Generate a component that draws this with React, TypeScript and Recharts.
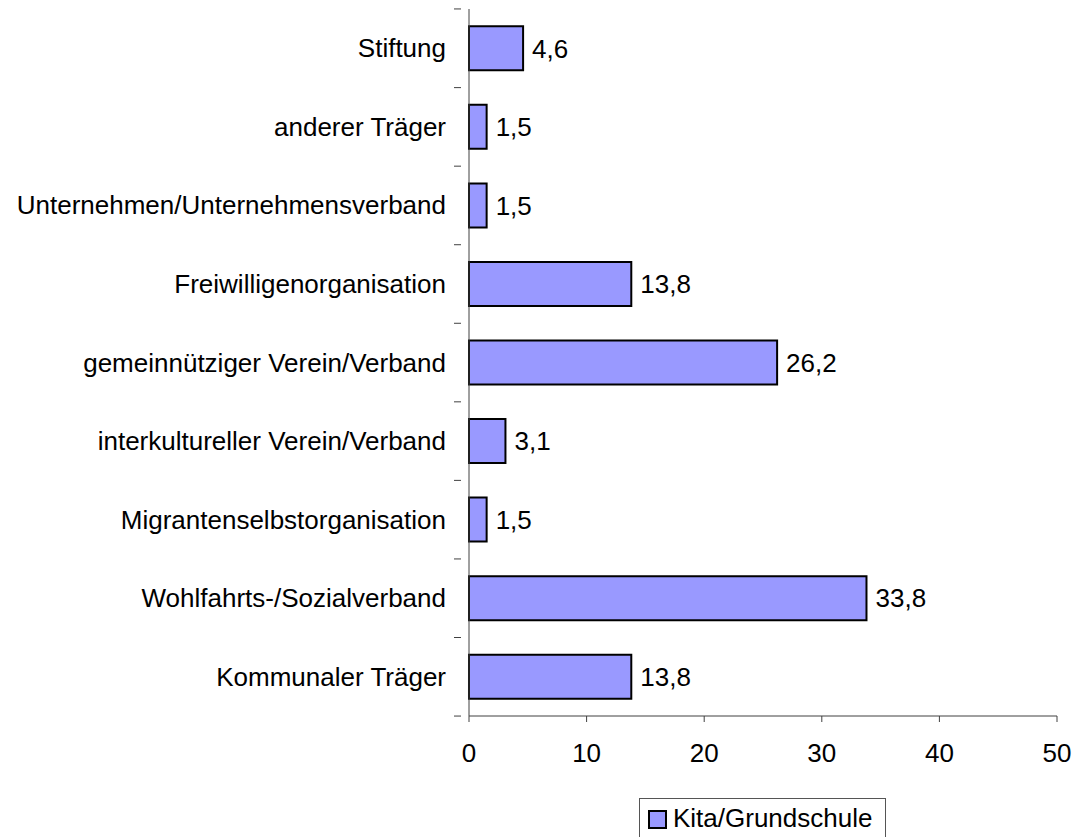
import { BarChart, Bar, XAxis, YAxis, LabelList, Legend } from "recharts"

const FONT = "'Liberation Sans', Arial, sans-serif"

const categories = [
  "Stiftung",
  "anderer Träger",
  "Unternehmen/Unternehmensverband",
  "Freiwilligenorganisation",
  "gemeinnütziger Verein/Verband",
  "interkultureller Verein/Verband",
  "Migrantenselbstorganisation",
  "Wohlfahrts-/Sozialverband",
  "Kommunaler Träger",
]
const kitaValues = [4.6, 1.5, 1.5, 13.8, 26.2, 3.1, 1.5, 33.8, 13.8]
const xTicks = [0, 10, 20, 30, 40, 50]
const seriesName = "Kita/Grundschule"

const rows = categories.map((name, i) => ({ name, kita: kitaValues[i] }))

const W = 1075
const H = 837
const TOP = 9
const BOTTOM = 717
const BAND = (BOTTOM - TOP) / categories.length
const AXIS = "#404040"

// category labels centered, tick marks on the band boundaries
// eslint-disable-next-line @typescript-eslint/no-explicit-any
function CatTick({ x, y, payload, index }: any) {
  return (
    <g>
      <text x={x - 15} y={y} textAnchor="end" dominantBaseline="central"
        fontFamily={FONT} fontSize={26} fill="#000">{payload.value}</text>
      <line x1={x - 7} x2={x} y1={y + BAND / 2} y2={y + BAND / 2} stroke={AXIS} />
      {index === 0 && <line x1={x - 7} x2={x} y1={y - BAND / 2} y2={y - BAND / 2} stroke={AXIS} />}
    </g>
  )
}

function LegendBox() {
  return (
    <div style={{
      border: "1px solid #555", width: 247, height: 50, boxSizing: "border-box",
      display: "flex", alignItems: "flex-start", paddingLeft: 8, paddingTop: 6, background: "#fff",
    }}>
      <div style={{ width: 15, height: 15, background: "#9999FF", border: "2px solid #000", marginTop: 5, marginRight: 6 }} />
      <span style={{ fontFamily: FONT, fontSize: 26, color: "#000", lineHeight: "27px" }}>{seriesName}</span>
    </div>
  )
}

export default function App() {
  return (
    <div style={{ position: "absolute", left: 0, top: 0, width: W, height: H, background: "#fff", overflow: "hidden" }}>
      <BarChart
        layout="vertical"
        width={W}
        height={H}
        data={rows}
        margin={{ top: TOP, right: W - 1057, bottom: H - BOTTOM, left: 0 }}
        barCategoryGap="22%"
      >
        <XAxis
          type="number"
          domain={[0, 50]}
          ticks={xTicks}
          interval={0}
          tickSize={6}
          tickMargin={22}
          axisLine={{ stroke: AXIS }}
          tickLine={{ stroke: AXIS }}
          tick={{ fontFamily: FONT, fontSize: 26, fill: "#000" }}
          height={1}
        />
        <YAxis
          type="category"
          dataKey="name"
          width={469}
          interval={0}
          axisLine={{ stroke: AXIS }}
          tickLine={false}
          tick={<CatTick />}
        />
        <Legend
          layout="horizontal"
          verticalAlign="middle"
          align="center"
          content={<LegendBox />}
          wrapperStyle={{ position: "absolute", left: 639, top: 798, width: "auto", height: "auto" }}
        />
        <Bar dataKey="kita" name={seriesName} fill="#9999FF" stroke="#000" strokeWidth={2} isAnimationActive={false}>
          <LabelList
            dataKey="kita"
            position="right"
            offset={9}
            formatter={(v: number) => String(v).replace(".", ",")}
            style={{ fontFamily: FONT, fontSize: 26, fill: "#000" }}
          />
        </Bar>
      </BarChart>
    </div>
  )
}
